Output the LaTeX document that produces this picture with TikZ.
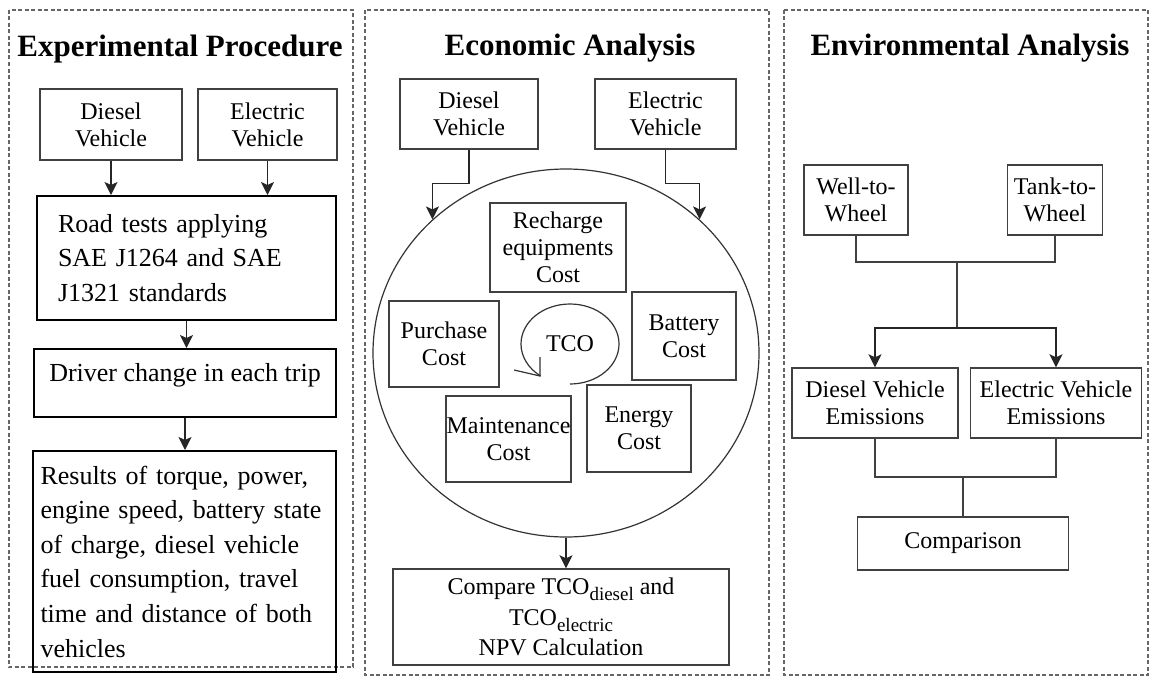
\documentclass[tikz,border=0pt]{standalone}
\usepackage{fontspec}
\setmainfont{Liberation Serif}
\usetikzlibrary{arrows.meta,shapes.geometric}

\newcommand{\tcosub}[1]{\raisebox{-6pt}{\fontsize{19}{19}\selectfont #1}}

\begin{document}
\begin{tikzpicture}[x=1pt, y=-1pt,
    panel/.style={draw=black!60, dash pattern=on 4pt off 2.5pt, line width=1.2pt},
    title/.style={font=\fontsize{31}{33}\selectfont\bfseries},
    sbox/.style={draw=black!75, line width=1.4pt, align=center, inner sep=0pt, font=\fontsize{24}{27}\selectfont},
    bbox/.style={draw, line width=2pt, align=left, inner xsep=10pt, inner ysep=0pt, font=\fontsize{26}{34.6}\selectfont},
    arr/.style={draw=black!85, line width=1.4pt, -{Stealth[length=13pt, width=13pt, inset=3pt]}},
    link/.style={draw=black!75, line width=1.4pt}]
    \useasboundingbox (0,0) rectangle (1150,677);

    % panels
    \draw[panel] (9,10) rectangle (353,667);
    \draw[panel] (365,10) rectangle (769,675);
    \draw[panel] (784,10) rectangle (1148,675);

    % experimental procedure
    \node[title] (epT) at (180,49) {Experimental Procedure};
    \node[sbox, minimum width=142, minimum height=71] (epD) at (111,124.5) {Diesel\\Vehicle};
    \node[sbox, minimum width=139, minimum height=71] (epE) at (267.5,124.5) {Electric\\Vehicle};
    \node[bbox, text width=257, inner xsep=21, minimum height=124] (road) at (186.5,258) {Road tests applying\\SAE J1264 and SAE\\J1321 standards};
    \node[bbox, minimum width=302, minimum height=68, text depth=22] (drv) at (185,383) {Driver change in each trip};
    \node[bbox, text width=288, inner xsep=7.5, minimum height=221] (res) at (184.5,561.5) {Results of torque, power,\\engine speed, battery state\\of charge, diesel vehicle\\fuel consumption, travel\\time and distance of both\\vehicles};

    \draw[arr] (epD.south) -- (epD.south |- road.north);
    \draw[arr] (epE.south) -- (epE.south |- road.north);
    \draw[arr] (road.south) -- (road.south |- drv.north);
    \draw[arr] (drv.south) -- (drv.south |- res.north);

    % economic analysis
    \node[title] (eaT) at (570,48) {Economic Analysis};
    \node[sbox, minimum width=138, minimum height=70] (eaD) at (469,114) {Diesel\\Vehicle};
    \node[sbox, minimum width=141, minimum height=70] (eaE) at (665.5,114) {Electric\\Vehicle};
    \node[draw=black!80, line width=1.2pt, ellipse, minimum width=386, minimum height=368, inner sep=0pt] (ring) at (566,353) {};
    \node[sbox, minimum width=136, minimum height=89] (rech) at (558,247.5) {Recharge\\equipments\\Cost};
    \node[sbox, minimum width=110, minimum height=86] (purch) at (444,344) {Purchase\\Cost};
    \node[sbox, minimum width=104, minimum height=88] (batt) at (684,336) {Battery\\Cost};
    \node[sbox, minimum width=125, minimum height=86] (maint) at (508.5,439) {Maintenance\\Cost};
    \node[sbox, minimum width=104, minimum height=87] (enrg) at (639,428.5) {Energy\\Cost};
    \node[font=\fontsize{24}{27}\selectfont, inner sep=0pt] (tco) at (570,344) {TCO};
    \draw[draw=black!80, line width=1.2pt]
        (tco.center) ++(-90:49pt and 40pt) arc[start angle=-90, end angle=233, x radius=49pt, y radius=40pt];
    \draw[draw=black!80, line width=1.2pt] (tco.center) ++(-30,13) -- ++(0,19) -- ++(-26,-6);
    \node[sbox, minimum width=336, minimum height=96, font=\fontsize{24}{30.5}\selectfont] (cmp) at (561,617) {Compare TCO\tcosub{diesel} and\\TCO\tcosub{electric}\\NPV Calculation};

    \draw[arr] (eaD.south) -- ++(0,34) -| (ring.135);
    \draw[arr] (eaE.south) -- ++(0,34) -| (ring.45);
    \draw[arr] (ring.south) -- (ring.south |- cmp.north);

    % environmental analysis
    \node[title] (enT) at (970,48) {Environmental Analysis};
    \node[sbox, minimum width=104, minimum height=70] (wtw) at (856,200) {Well-to-\\Wheel};
    \node[sbox, minimum width=95, minimum height=70] (ttw) at (1055,200) {Tank-to-\\Wheel};
    \node[sbox, minimum width=166, minimum height=70] (dve) at (875,403) {Diesel Vehicle\\Emissions};
    \node[sbox, minimum width=171, minimum height=70] (eve) at (1056,403) {Electric Vehicle\\Emissions};
    \node[sbox, minimum width=211, minimum height=53] (cmpE) at (963,543.5) {Comparison};
    \coordinate (j1) at (957,262);
    \coordinate (j2) at (957,328);
    \coordinate (j3) at (963,477);

    \draw[link] (wtw.south) |- (j1) -| (ttw.south);
    \draw[link] (j1) -- (j2);
    \draw[arr] (j2) -| (dve.north);
    \draw[arr] (j2) -| (eve.north);
    \draw[link] (dve.south) |- (j3) -| (eve.south);
    \draw[link] (j3) -- (j3 |- cmpE.north);
\end{tikzpicture}
\end{document}
